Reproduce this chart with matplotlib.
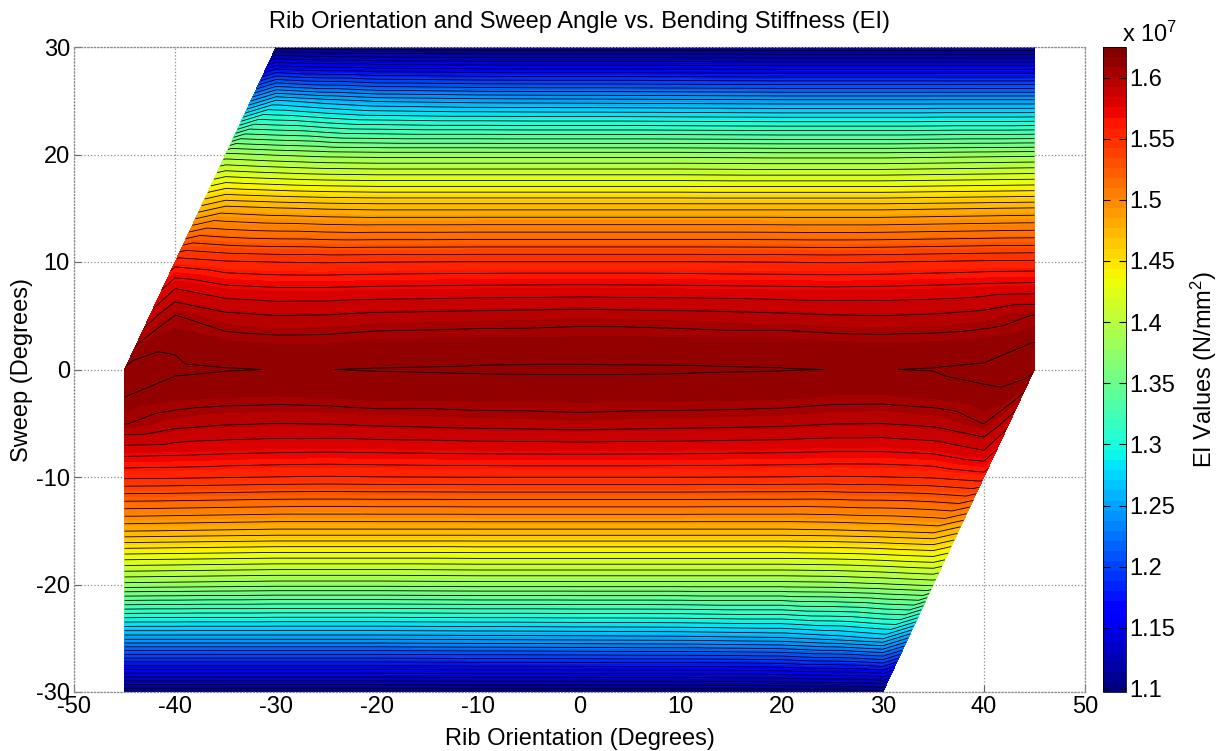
import matplotlib
matplotlib.use("Agg")
import matplotlib.pyplot as plt
import matplotlib.tri as mtri
import numpy as np

plt.rcParams['font.family'] = ['Liberation Sans', 'DejaVu Sans']
plt.rcParams['mathtext.fontset'] = 'custom'
plt.rcParams['mathtext.rm'] = 'Liberation Sans'
plt.rcParams['mathtext.it'] = 'Liberation Sans:italic'
plt.rcParams['axes.unicode_minus'] = False

nan = np.nan

# Datos
rib = [-45, -40, -35, -30, -25, -20, -10, 0, 10, 20, 25, 30, 35, 40, 45]
sweep = [-30, -25, -20, -15, -10, -7.5, -5, -2.5, 0, 2.5, 5, 7.5, 10, 15, 20, 25, 30]
# EI (x 10^7 N/mm^2), una fila por angulo de sweep, nan fuera del rango ensayado
ei = [
    [1.0978, 1.0978, 1.098, 1.098, 1.098, 1.098, 1.099, 1.099, 1.099, 1.100, 1.101, 1.104, nan, nan, nan],
    [1.248, 1.248, 1.248, 1.248, 1.248, 1.248, 1.249, 1.250, 1.251, 1.254, 1.260, 1.268, nan, nan, nan],
    [1.379, 1.378, 1.377, 1.376, 1.376, 1.376, 1.377, 1.377, 1.377, 1.377, 1.378, 1.381, 1.385, nan, nan],
    [1.478, 1.477, 1.476, 1.475, 1.475, 1.475, 1.475, 1.475, 1.475, 1.475, 1.476, 1.478, 1.481, nan, nan],
    [1.5535, 1.553, 1.552, 1.551, 1.5505, 1.551, 1.5515, 1.5515, 1.5515, 1.551, 1.5505, 1.551, 1.5525, 1.557, nan],
    [1.578, 1.577, 1.5755, 1.5745, 1.574, 1.5745, 1.5755, 1.576, 1.5755, 1.5745, 1.5735, 1.5735, 1.5755, 1.583, nan],
    [1.6046, 1.5975, 1.5946, 1.5934, 1.594, 1.5955, 1.5975, 1.599, 1.5975, 1.596, 1.594, 1.5935, 1.596, 1.6043, nan],
    [1.6146, 1.6106, 1.609, 1.6084, 1.6092, 1.611, 1.611, 1.6113, 1.6109, 1.610, 1.6082, 1.608, 1.6096, 1.6134, nan],
    [1.6165, 1.6157, 1.6148, 1.6143, 1.6144, 1.6147, 1.6151, 1.6152, 1.6151, 1.6147, 1.6144, 1.6143, 1.6148, 1.6157, 1.6165],
    [nan, 1.6134, 1.6096, 1.608, 1.6082, 1.610, 1.6109, 1.6113, 1.611, 1.611, 1.6092, 1.6084, 1.609, 1.6106, 1.6146],
    [nan, 1.6043, 1.596, 1.5935, 1.594, 1.596, 1.5975, 1.599, 1.5975, 1.5955, 1.594, 1.5934, 1.5946, 1.5975, 1.6046],
    [nan, 1.583, 1.5755, 1.5735, 1.5735, 1.5745, 1.5755, 1.576, 1.5755, 1.5745, 1.574, 1.5745, 1.5755, 1.577, 1.578],
    [nan, 1.557, 1.5525, 1.551, 1.5505, 1.551, 1.5515, 1.5515, 1.5515, 1.551, 1.5505, 1.551, 1.552, 1.553, 1.5535],
    [nan, nan, 1.481, 1.478, 1.476, 1.475, 1.475, 1.475, 1.475, 1.475, 1.475, 1.475, 1.476, 1.477, 1.478],
    [nan, nan, 1.385, 1.381, 1.378, 1.377, 1.377, 1.377, 1.377, 1.376, 1.376, 1.376, 1.377, 1.378, 1.379],
    [nan, nan, nan, 1.268, 1.260, 1.254, 1.251, 1.250, 1.249, 1.248, 1.248, 1.248, 1.248, 1.248, 1.248],
    [nan, nan, nan, 1.104, 1.101, 1.100, 1.099, 1.099, 1.099, 1.098, 1.098, 1.098, 1.098, 1.0978, 1.0978],
]
cbar_ticks = [1.1, 1.15, 1.2, 1.25, 1.3, 1.35, 1.4, 1.45, 1.5, 1.55, 1.6]
cbar_ticklabels = ["1.1", "1.15", "1.2", "1.25", "1.3", "1.35", "1.4", "1.45", "1.5", "1.55", "1.6"]
vmin, vmax = 1.0975, 1.625

X, Y = np.meshgrid(rib, sweep)
Z = np.array(ei)
ok = ~np.isnan(Z)
tri = mtri.Triangulation(X[ok], Y[ok])

fs = 17
fig = plt.figure(figsize=(12.25, 7.51), dpi=100)
ax = fig.add_axes([74/1225, 59/751, 1011/1225, 645/751])
cax = fig.add_axes([1103/1225, 59/751, 23/1225, 645/751])

cmap = plt.get_cmap('jet', 64)
cf = ax.tricontourf(tri, Z[ok], levels=np.linspace(vmin, vmax, 65), cmap=cmap,
                    vmin=vmin, vmax=vmax, zorder=2)
ax.tricontour(tri, Z[ok], levels=np.linspace(vmin, vmax, 51)[1:-1], colors='k',
              linewidths=0.6, zorder=3)

ax.set_xlim(-50, 50)
ax.set_ylim(-30, 30)
ax.set_xticks(np.arange(-50, 51, 10))
ax.set_yticks(np.arange(-30, 31, 10))
ax.set_axisbelow(True)
ax.grid(True, linestyle=':', color='0.55', linewidth=0.9)
for s in ax.spines.values():
    s.set_linestyle(':')
    s.set_color('0.55')
    s.set_linewidth(0.9)
ax.tick_params(direction='in', length=5, color='0.4', labelsize=fs, pad=3)
ax.set_title("Rib Orientation and Sweep Angle vs. Bending Stiffness (EI)", fontsize=fs, pad=14)
ax.set_xlabel("Rib Orientation (Degrees)", fontsize=fs, labelpad=7)
ax.set_ylabel("Sweep (Degrees)", fontsize=fs, labelpad=2)

cb = fig.colorbar(cf, cax=cax, ticks=cbar_ticks)
cb.set_ticklabels(cbar_ticklabels)
cb.outline.set_linewidth(0.6)
cax.yaxis.set_ticks_position('both')
cax.yaxis.set_label_position('right')
cax.tick_params(direction='in', length=5, labelsize=fs, labelleft=False, labelright=True, pad=2)
cb.set_label("EI Values (N/mm$^2$)", fontsize=fs, labelpad=10)
fig.text(1122/1225, 1 - 34/751, "x 10$^{7}$", fontsize=fs, ha='left', va='center')

fig.savefig("out.png", dpi=100)
